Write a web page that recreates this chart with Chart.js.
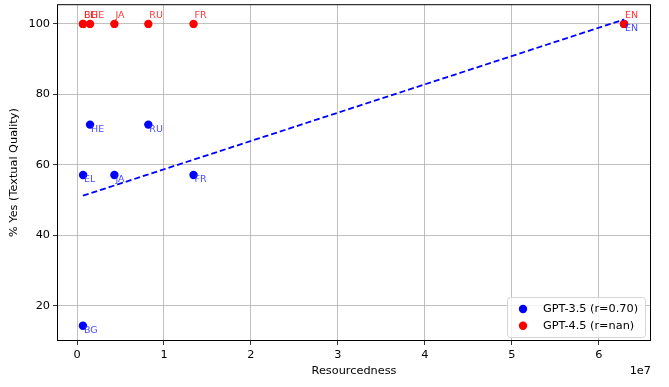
<!DOCTYPE html>
<html>
<head>
<meta charset="utf-8">
<script src="https://cdn.jsdelivr.net/npm/chart.js@4/dist/chart.umd.min.js"></script>
<style>
  html, body { margin: 0; padding: 0; background: #fff; }
  #wrap { width: 669px; height: 387px; }
</style>
</head>
<body>
<div id="wrap"><canvas id="chart" width="669" height="387"></canvas></div>
<script>
// values
const languages = ['BG', 'EL', 'HE', 'JA', 'RU', 'FR', 'EN'];
const resourcedness = [680000, 700000, 1500000, 4300000, 8200000, 13400000, 62900000];
const gpt35 = [14.3, 57.1, 71.4, 57.1, 71.4, 57.1, 100];
const gpt45 = [100, 100, 100, 100, 100, 100, 100];
const xTicks = [0, 1e7, 2e7, 3e7, 4e7, 5e7, 6e7];
const yTicks = [20, 40, 60, 80, 100];

const FONT = 'DejaVu Sans, Verdana, sans-serif';

function pearson(xs, ys) {
    const n = xs.length;
    const mx = xs.reduce((a, b) => a + b, 0) / n;
    const my = ys.reduce((a, b) => a + b, 0) / n;
    let sxy = 0, sxx = 0, syy = 0;
    for (let i = 0; i < n; i++) {
        sxy += (xs[i] - mx) * (ys[i] - my);
        sxx += (xs[i] - mx) ** 2;
        syy += (ys[i] - my) ** 2;
    }
    return { r: sxy / Math.sqrt(sxx * syy), slope: sxy / sxx, icpt: my - (sxy / sxx) * mx };
}

const fit35 = pearson(resourcedness, gpt35);
const fit45 = pearson(resourcedness, gpt45);
const fmtR = r => isNaN(r) ? 'nan' : r.toFixed(2);

const xMin = Math.min(...resourcedness), xMax = Math.max(...resourcedness);
const fitLine = [
    { x: xMin, y: fit35.icpt + fit35.slope * xMin },
    { x: xMax, y: fit35.icpt + fit35.slope * xMax }
];

const points = ys => resourcedness.map((x, i) => ({ x: x, y: ys[i] }));

// language labels next to each point, plus legend box, offset text and frame
const extras = {
    id: 'extras',
    afterDatasetsDraw(chart) {
        const ctx = chart.ctx;
        ctx.save();
        ctx.font = '9.5px ' + FONT;
        ctx.textAlign = 'left';
        ctx.textBaseline = 'middle';
        [[2, 'rgba(40,40,255,0.85)', 5], [1, 'rgba(255,30,30,0.9)', -8]].forEach(([idx, col, dy]) => {
            const meta = chart.getDatasetMeta(idx);
            ctx.fillStyle = col;
            meta.data.forEach((pt, i) => {
                ctx.fillText(languages[i], pt.x + 1, pt.y + dy);
            });
        });

        // frame
        const a = chart.chartArea;
        ctx.strokeStyle = '#000';
        ctx.lineWidth = 1;
        ctx.strokeRect(a.left + 0.5, a.top + 0.5, a.right - a.left - 1, a.bottom - a.top - 1);

        // legend
        const lx = a.right - 144, ly = a.bottom - 44, lw = 138, lh = 40;
        ctx.fillStyle = 'rgba(255,255,255,0.8)';
        ctx.strokeStyle = '#d5d5d5';
        ctx.beginPath();
        ctx.roundRect(lx + 0.5, ly + 0.5, lw, lh, 3);
        ctx.fill();
        ctx.stroke();
        const entries = [chart.data.datasets[2], chart.data.datasets[1]];
        ctx.font = '11.3px ' + FONT;
        entries.forEach((ds, i) => {
            const cy = ly + 12 + i * 16.7;
            ctx.fillStyle = ds.backgroundColor;
            ctx.beginPath();
            ctx.arc(lx + 16, cy, 4.2, 0, Math.PI * 2);
            ctx.fill();
            ctx.fillStyle = '#000';
            ctx.fillText(ds.label, lx + 36, cy);
        });

        // scale offset text
        ctx.textAlign = 'right';
        ctx.fillStyle = '#000';
        ctx.fillText('1e7', a.right, 371);
        ctx.restore();
    }
};

new Chart(document.getElementById('chart'), {
    type: 'scatter',
    data: {
        datasets: [
            {
                type: 'line',
                label: 'fit',
                data: fitLine,
                borderColor: '#0000ff',
                borderWidth: 1.8,
                borderDash: [6, 3],
                pointRadius: 0,
                fill: false,
                order: 0
            },
            {
                label: 'GPT-4.5 (r=' + fmtR(fit45.r) + ')',
                data: points(gpt45),
                backgroundColor: '#ff0000',
                borderWidth: 0,
                pointRadius: 4.2,
                order: 1
            },
            {
                label: 'GPT-3.5 (r=' + fmtR(fit35.r) + ')',
                data: points(gpt35),
                backgroundColor: '#0000ff',
                borderWidth: 0,
                pointRadius: 4.2,
                order: 2
            }
        ]
    },
    options: {
        responsive: false,
        animation: false,
        devicePixelRatio: 1,
        layout: { padding: { left: 0, right: 18, top: 4, bottom: 0 } },
        plugins: {
            legend: { display: false },
            tooltip: { enabled: false }
        },
        scales: {
            x: {
                type: 'linear',
                min: -0.23e7,
                max: 6.6e7,
                afterBuildTicks: axis => { axis.ticks = xTicks.map(v => ({ value: v })); },
                afterFit: axis => { axis.height = 46; axis.paddingLeft = 0; axis.paddingRight = 0; },
                ticks: {
                    callback: v => String(v / 1e7),
                    color: '#000',
                    font: { family: FONT, size: 11.3 },
                    padding: 3,
                    maxRotation: 0
                },
                grid: { color: '#b0b0b0', lineWidth: 0.8, tickColor: '#000', tickLength: 4 },
                border: { display: false },
                title: {
                    display: true,
                    text: 'Resourcedness',
                    color: '#000',
                    font: { family: FONT, size: 11.3 },
                    padding: { top: 0, bottom: 9 }
                }
            },
            y: {
                type: 'linear',
                min: 9.95,
                max: 105.6,
                afterBuildTicks: axis => { axis.ticks = yTicks.map(v => ({ value: v })); },
                afterFit: axis => { axis.width = 57; axis.paddingTop = 0; axis.paddingBottom = 0; },
                ticks: {
                    color: '#000',
                    font: { family: FONT, size: 11.3 },
                    padding: 3
                },
                grid: { color: '#b0b0b0', lineWidth: 0.8, tickColor: '#000', tickLength: 4 },
                border: { display: false },
                title: {
                    display: true,
                    text: '% Yes (Textual Quality)',
                    color: '#000',
                    font: { family: FONT, size: 11.3 },
                    padding: { top: 7, bottom: 0 }
                }
            }
        }
    },
    plugins: [extras]
});
</script>
</body>
</html>
